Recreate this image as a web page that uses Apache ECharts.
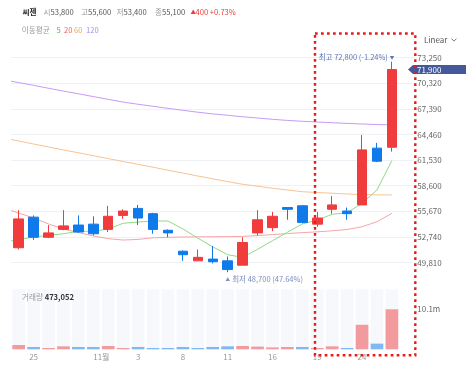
<!DOCTYPE html>
<html><head><meta charset="utf-8">
<script src="https://cdn.jsdelivr.net/npm/echarts@6/dist/echarts.min.js"></script>
<style>html,body{margin:0;padding:0;background:#fff}#c{width:473px;height:367px}</style>
</head><body><div id="c"></div>
<script>
// ---- data ----
const tickLabels = ['', '25', '', '', '', '11월', '', '', '3', '', '', '8', '', '', '11', '', '', '16', '', '', '19', '', '', '24', '', '', ''];
const categories = tickLabels.map((t, i) => 'D' + (i + 1));
const opens  = [51500, 55000, 52700, 53600, 54100, 54200, 53600, 55200, 56000, 55400, 53500, 51100, 50000, 50200, 50000, 49500, 53200, 53800, 56100, 56300, 54200, 55900, 55700, 56400, 62900, 63000];
const closes = [54800, 52700, 53200, 54000, 53300, 53100, 55100, 55700, 54900, 53600, 53200, 50700, 50400, 49900, 49000, 52100, 54700, 55100, 55900, 54400, 54900, 56400, 55400, 62700, 61400, 71900];
const lows   = [51300, 52400, 52600, 53500, 53200, 52900, 53300, 54800, 54100, 53100, 52700, 50000, 50000, 49700, 48700, 49500, 52900, 53400, 54700, 54300, 53900, 55400, 54700, 56400, 61300, 62500];
const highs  = [55800, 55200, 54100, 55800, 55200, 55100, 56300, 55900, 56400, 55500, 53600, 51200, 51300, 51700, 50500, 52700, 55800, 55600, 56100, 56400, 55600, 57400, 56100, 64400, 63500, 72800];
const volumes = [1080000, 580000, 330000, 750000, 580000, 580000, 830000, 330000, 580000, 330000, 330000, 580000, 330000, 580000, 750000, 830000, 680000, 473052, 580000, 580000, 330000, 750000, 330000, 6190000, 1430000, 10100000];
// moving averages: first value is at the left edge of the plot, then one per candle
const ma5   = [52300, 52420, 52730, 52920, 53100, 53380, 53380, 53640, 54300, 54440, 54560, 54560, 53650, 52600, 51600, 50700, 50400, 51320, 52300, 53270, 54220, 54670, 55330, 55510, 56590, 58110, 61480];
const ma20  = [55760, 55470, 54900, 54220, 53640, 53240, 52840, 52540, 52380, 52450, 52640, 52690, 52730, 52750, 52760, 52770, 52800, 52890, 53000, 53120, 53230, 53320, 53440, 53590, 53900, 54480, 55440];
const ma60  = [63890, 63720, 63370, 63030, 62690, 62370, 62030, 61700, 61370, 61040, 60720, 60370, 60050, 59710, 59390, 59070, 58760, 58540, 58310, 58110, 57910, 57820, 57740, 57650, 57580, 57550, 57540];
const ma120 = [70560, 70400, 70090, 69750, 69430, 69120, 68800, 68480, 68170, 67920, 67690, 67450, 67230, 67010, 66820, 66660, 66490, 66350, 66200, 66070, 65970, 65890, 65810, 65730, 65660, 65600, 65550];
const priceMin = 46880, priceMax = 76180, priceStep = 2930;
const volMax = 15150000, volStep = 10100000;
const hoverIndex = 17;

// ---- style ----
const FONT = "'Noto Sans CJK KR', 'Noto Sans', sans-serif";
const RED = '#f03c3c', BLUE = '#0f7aea';
const VRED = '#f29a9d', VBLUE = '#80b8f4';
const HF = 7.6;
const fmt = v => v.toLocaleString('en-US');
const maX = [-0.5].concat(opens.map((_, i) => i));
const lineSeries = (data, color) => ({
  type: 'line', xAxisIndex: 2, yAxisIndex: 0, data: data.map((v, i) => [maX[i], v]),
  symbol: 'none', showSymbol: false, silent: true, z: 2,
  lineStyle: { color, width: 1 }
});

const chart = echarts.init(document.getElementById('c'), null, { renderer: 'canvas', width: 473, height: 367 });
chart.setOption({
  animation: false,
  backgroundColor: '#ffffff',
  grid: [
    { left: 11.2, right: 58.7, top: 32.1, height: 256 },
    { left: 11.2, right: 58.7, top: 289.3, height: 60 }
  ],
  xAxis: [
    { type: 'category', gridIndex: 0, data: categories, boundaryGap: true, show: false },
    { type: 'category', gridIndex: 1, data: categories, boundaryGap: true,
      axisLine: { show: false }, axisTick: { show: false }, splitLine: { show: false },
      axisLabel: { interval: (i) => tickLabels[i] !== '', margin: 4, fontSize: 8, color: '#999', fontFamily: FONT,
        formatter: (v, i) => tickLabels[i] === '11월' ? '{m|11월}' : tickLabels[i],
        rich: { m: { padding: [0, 0, 0, 16], fontSize: 8, color: '#999', fontFamily: FONT } } } },
    { type: 'value', gridIndex: 0, min: -0.5, max: categories.length - 0.5, show: false }
  ],
  yAxis: [
    { type: 'value', gridIndex: 0, position: 'right', min: priceMin, max: priceMax, interval: priceStep, scale: false,
      axisLine: { show: false }, axisTick: { show: false },
      axisLabel: { showMinLabel: false, showMaxLabel: false, margin: 3, fontSize: 8, color: '#666', fontFamily: FONT, formatter: v => fmt(v) },
      splitLine: { show: true, showMinLine: false, showMaxLine: false, lineStyle: { color: '#eef1f5', width: 1 } } },
    { type: 'value', gridIndex: 1, position: 'right', min: 0, max: volMax, interval: volStep,
      axisLine: { show: false }, axisTick: { show: false }, splitLine: { show: false },
      axisLabel: { showMinLabel: false, showMaxLabel: false, margin: 3, fontSize: 8, color: '#666', fontFamily: FONT,
        formatter: v => (v / 1e6).toFixed(1) + 'm' } }
  ],
  series: [
    { type: 'candlestick', xAxisIndex: 0, yAxisIndex: 0, z: 3, barWidth: 10,
      data: opens.map((o, i) => [o, closes[i], lows[i], highs[i]]),
      itemStyle: { color: RED, color0: BLUE, borderColor: RED, borderColor0: BLUE, borderWidth: 1 } },
    lineSeries(ma120, '#c59cf6'),
    lineSeries(ma60, '#f8c393'),
    lineSeries(ma20, '#f6a5a8'),
    lineSeries(ma5, '#8edb86'),
    { type: 'bar', xAxisIndex: 1, yAxisIndex: 1, barWidth: '85%',
      showBackground: true, backgroundStyle: { color: '#f6f8fc' },
      data: volumes.map((v, i) => ({ value: v, itemStyle: { color: (i === 0 || closes[i] >= closes[i - 1]) ? VRED : VBLUE } })) }
  ]
});

// ---- annotations positioned through the chart scales ----
const last = closes[closes.length - 1];
let hiI = 0, loI = 0;
highs.forEach((h, i) => { if (h > highs[hiI]) hiI = i; });
lows.forEach((l, i) => { if (l < lows[loI]) loI = i; });
const pHi = chart.convertToPixel({ seriesIndex: 0 }, [hiI, highs[hiI]]);
const pLo = chart.convertToPixel({ seriesIndex: 0 }, [loI, lows[loI]]);
const pLast = chart.convertToPixel({ seriesIndex: 0 }, [closes.length - 1, last]);
const hiPct = ((last - highs[hiI]) / highs[hiI] * 100).toFixed(2);
const loPct = ((last - lows[loI]) / lows[loI] * 100).toFixed(2);
const chg = closes[hoverIndex] - closes[hoverIndex - 1];
const chgPct = (chg / closes[hoverIndex - 1] * 100).toFixed(2);

const T = (x, y, text, st) => ({ type: 'text', x, y, silent: true, z: 50,
  style: Object.assign({ text, fontFamily: FONT, fontSize: HF, fill: '#555', verticalAlign: 'middle', align: 'left' }, st || {}) });
const rich = {
  l: { fill: '#9a9a9a', fontSize: HF, fontFamily: FONT },
  v: { fill: '#555', fontSize: HF, fontFamily: FONT },
  b: { fill: '#333', fontSize: HF, fontFamily: FONT, fontWeight: 'bold' }
};
const tagY = pLast[1];
const graphic = [
  T(22.5, 12.3, '씨젠', { fill: '#222', fontWeight: 'bold' }),
  T(43.5, 12.3, '{l|시}{v|' + fmt(opens[hoverIndex]) + '}', { rich }),
  T(81, 12.3, '{l|고}{v|' + fmt(highs[hoverIndex]) + '}', { rich }),
  T(116.5, 12.3, '{l|저}{v|' + fmt(lows[hoverIndex]) + '}', { rich }),
  T(155, 12.3, '{l|종}{v|' + fmt(closes[hoverIndex]) + '}', { rich }),
  T(190.5, 12.3, '▲', { fill: RED, fontSize: 5.5 }),
  T(195.5, 12.3, fmt(chg) + ' +' + chgPct + '%', { fill: RED }),
  T(21.7, 30.3, '이동평균', { fill: '#9a9a9a' }),
  T(56.5, 30.3, '5', { fill: '#3fbf3f' }),
  T(64, 30.3, '20', { fill: '#f0605f' }),
  T(74, 30.3, '60', { fill: '#f5a04f' }),
  T(86, 30.3, '120', { fill: '#a98bf2' }),
  T(22, 297.3, '{l|거래량} {b|' + fmt(volumes[hoverIndex]) + '}', { rich }),
  T(424, 40, 'Linear', { fill: '#555', fontSize: 8 }),
  { type: 'polyline', silent: true, z: 50, shape: { points: [[451.5, 38.6], [454, 41.1], [456.5, 38.6]] }, style: { stroke: '#555', lineWidth: 0.8, fill: null } },
  // highest / lowest labels
  T(pHi[0] - 4, pHi[1] - 4.5, '최고 ' + fmt(highs[hiI]) + ' (' + hiPct + '%)', { fill: '#5d74b6', fontSize: 7.5, align: 'right' }),
  T(pHi[0], pHi[1] - 4.5, '▼', { fill: '#5d74b6', fontSize: 4.5, align: 'center' }),
  T(pLo[0], pLo[1] + 7, '▲', { fill: '#7c8dc5', fontSize: 4.5, align: 'center' }),
  T(pLo[0] + 4.5, pLo[1] + 7, '최저 ' + fmt(lows[loI]) + ' (' + loPct + '%)', { fill: '#7c8dc5', fontSize: 7.5 }),
  // current price tag
  { type: 'polygon', silent: true, z: 60, shape: { points: [[408, tagY], [413, tagY - 4.6], [466, tagY - 4.6], [466, tagY + 4.6], [413, tagY + 4.6]] }, style: { fill: '#44599b' } },
  { type: 'text', silent: true, z: 61, x: 417, y: tagY, style: { text: fmt(last), fontFamily: FONT, fontSize: 8, fill: '#fff', verticalAlign: 'middle' } },
  // red dotted highlight box
  { type: 'rect', silent: true, z: 70, shape: { x: 315, y: 33.5, width: 100.3, height: 321.8 }, style: { fill: null, stroke: '#e81a1a', lineWidth: 2.4, lineDash: [2.7, 3.3] } }
];
chart.setOption({ graphic });
</script>
</body></html>
